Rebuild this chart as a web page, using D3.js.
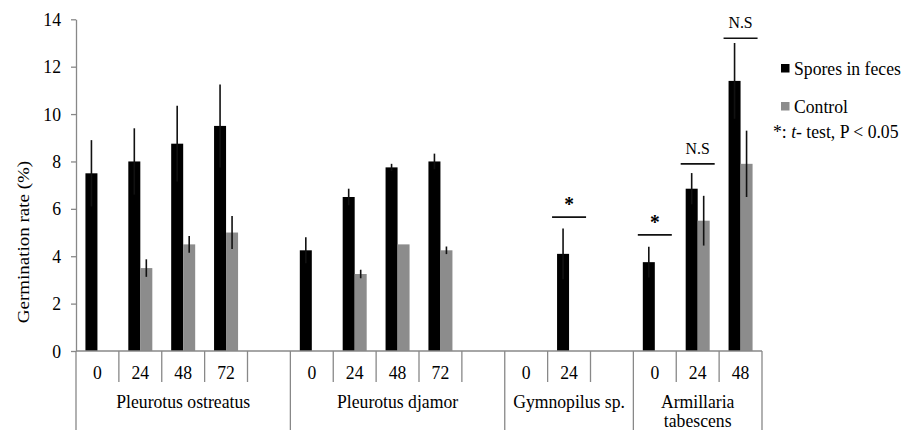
<!DOCTYPE html>
<html>
<head>
<meta charset="utf-8">
<script src="https://cdn.jsdelivr.net/npm/d3@7"></script>
<style>
	body { margin: 0; background: #fff; }
	text { font-family: "Liberation Serif", "Times New Roman", serif; fill: #000; }
</style>
</head>
<body>
<script>
'use strict';

// Groups (species) and the hour labels of their slots. An empty label is a spacer slot.
const groups = ["Pleurotus ostreatus", "Pleurotus djamor", "Gymnopilus sp.", "Armillaria tabescens"];
const groupHours = [
	["0", "24", "48", "72", ""],
	["0", "24", "48", "72", ""],
	["0", "24", ""],
	["0", "24", "48"]
];

// One entry per slot, in the same order as the hour labels above.
const fecesValues  = [7.5, 8.0, 8.75, 9.5, null, 4.25, 6.5, 7.75, 8.0, null, 0, 4.1, null, 3.75, 6.85, 11.4];
const fecesErrors  = [1.4, 1.4, 1.6, 1.75, null, 0.55, 0.35, 0.15, 0.33, null, 0, 1.07, null, 0.65, 0.66, 1.6];
const controlValues = [0, 3.5, 4.5, 5.0, null, 0, 3.25, 4.5, 4.25, null, 0, 0, null, 0, 5.5, 7.9];
const controlErrors = [0, 0.37, 0.35, 0.7, null, 0, 0.18, 0, 0.16, null, 0, 0, null, 0, 1.05, 1.4];

// Significance marks: slot index, label and the level (in %) of the bracket line.
const sigSlots  = [11, 13, 14, 15];
const sigLabels = ["*", "*", "N.S", "N.S"];
const sigLevels = [5.65, 4.9, 7.9, 13.2];

const yTicks = [0, 2, 4, 6, 8, 10, 12, 14];
const seriesNames = ["Spores in feces", "Control"];
const seriesColors = ["#000000", "#8c8c8c"];

const axisColor = "#888888";
const squeeze = 0.93; // the source text is slightly condensed

// Flatten the slots so every bar has one index.
let slots = [];
groupHours.forEach(function(hours, g)
{
	hours.forEach(function(h)
	{
		slots.push({ group: g, label: h });
	});
});

const svg = d3.select("body").append("svg")
	.attr("width", 914)
	.attr("height", 430);

const x = d3.scaleBand()
	.domain(d3.range(slots.length))
	.range([76, 762])
	.padding(0);

const inner = d3.scaleBand()
	.domain([0, 1])
	.range([0, x.bandwidth()])
	.paddingInner(0)
	.paddingOuter(0.786);

const y = d3.scaleLinear()
	.domain([0, 14])
	.range([351, 19.3]);

// Horizontal text helper, condensed like the source.
function addText(parent, str, tx, ty, anchor, size)
{
	return parent.append("text")
		.attr("transform", "translate(" + tx + "," + ty + ") scale(" + squeeze + ",1)")
		.attr("text-anchor", anchor || "middle")
		.style("font-size", (size || 19) + "px")
		.text(str);
}

// Y axis
const yAxis = svg.append("g")
	.attr("transform", "translate(76,0)")
	.call(d3.axisLeft(y).tickValues(yTicks).tickSize(5).tickSizeOuter(0));
yAxis.select(".domain").attr("stroke", axisColor).attr("stroke-width", 1.3);
yAxis.selectAll(".tick line").attr("stroke", axisColor).attr("stroke-width", 1.3);
yAxis.selectAll(".tick text")
	.attr("x", -15 / squeeze)
	.attr("transform", "scale(" + squeeze + ",1)")
	.style("font-size", "19px")
	.style("font-family", "\"Liberation Serif\", \"Times New Roman\", serif")
	.attr("fill", "#000");

svg.append("text")
	.attr("transform", "translate(23,242) rotate(-90) scale(1," + squeeze + ")")
	.attr("text-anchor", "middle")
	.attr("dy", "0.35em")
	.style("font-size", "19px")
	.text("Germination rate (%)");

// Bars
const series = [
	{ values: fecesValues, errors: fecesErrors },
	{ values: controlValues, errors: controlErrors }
];
series.forEach(function(s, k)
{
	let items = slots.map(function(d, i) { return { i: i, v: s.values[i], e: s.errors[i] }; })
		.filter(function(d) { return d.v != null && d.v > 0; });

	svg.append("g").selectAll("rect")
		.data(items)
		.enter()
		.append("rect")
		.attr("x", function(d) { return x(d.i) + inner(k); })
		.attr("width", inner.bandwidth())
		.attr("y", function(d) { return y(d.v); })
		.attr("height", function(d) { return y(0) - y(d.v); })
		.attr("fill", seriesColors[k]);

	svg.append("g").selectAll("line")
		.data(items.filter(function(d) { return d.e > 0; }))
		.enter()
		.append("line")
		.attr("x1", function(d) { return x(d.i) + inner(k) + inner.bandwidth() / 2; })
		.attr("x2", function(d) { return x(d.i) + inner(k) + inner.bandwidth() / 2; })
		.attr("y1", function(d) { return y(d.v + d.e); })
		.attr("y2", function(d) { return y(d.v - d.e); })
		.attr("stroke", "#111")
		.attr("stroke-width", 1.6);
});

// X axis: baseline, slot ticks and labels, group separators and names
svg.append("line")
	.attr("x1", x.range()[0]).attr("x2", x.range()[1])
	.attr("y1", y(0)).attr("y2", y(0))
	.attr("stroke", axisColor).attr("stroke-width", 1.3);

slots.forEach(function(d, i)
{
	let left = x(i);
	let isGroupStart = (i === 0 || slots[i - 1].group !== d.group);
	svg.append("line")
		.attr("x1", left).attr("x2", left)
		.attr("y1", y(0)).attr("y2", isGroupStart ? 430 : 382)
		.attr("stroke", axisColor).attr("stroke-width", 1.3);
	if (d.label !== "")
	{
		addText(svg, d.label, left + x.bandwidth() / 2, 379);
	}
});
svg.append("line")
	.attr("x1", x.range()[1]).attr("x2", x.range()[1])
	.attr("y1", y(0)).attr("y2", 430)
	.attr("stroke", axisColor).attr("stroke-width", 1.3);

groups.forEach(function(name, g)
{
	let idx = slots.map(function(d, i) { return d.group === g ? i : -1; })
		.filter(function(i) { return i >= 0; });
	let cx = (x(idx[0]) + x(idx[idx.length - 1]) + x.bandwidth()) / 2;
	let words = name.split(" ");
	if (g === groups.length - 1)
	{
		// Last group name wraps onto two lines
		addText(svg, words[0], cx, 408);
		addText(svg, words[1], cx, 427);
	}
	else
	{
		addText(svg, name, cx, 408);
	}
});

// Significance brackets
sigSlots.forEach(function(slot, j)
{
	let cx = x(slot) + x.bandwidth() / 2;
	let ly = y(sigLevels[j]);
	svg.append("line")
		.attr("x1", cx - 17).attr("x2", cx + 17)
		.attr("y1", ly).attr("y2", ly)
		.attr("stroke", "#111").attr("stroke-width", 1.6);
	let t = addText(svg, sigLabels[j], cx, ly - 10, "middle", sigLabels[j] === "*" ? 21 : 17);
	if (sigLabels[j] === "*")
	{
		t.style("font-weight", "bold").attr("transform", "translate(" + cx + "," + (ly - 6) + ") scale(" + squeeze + ",1)");
	}
});

// Legend
const legendY = [75, 113];
seriesNames.forEach(function(name, k)
{
	svg.append("rect")
		.attr("x", 781).attr("y", legendY[k] - 11)
		.attr("width", 8.5).attr("height", 8.5)
		.attr("fill", seriesColors[k]);
	addText(svg, name, 794, legendY[k], "start");
});

let note = svg.append("text")
	.attr("transform", "translate(773,138) scale(" + squeeze + ",1)")
	.style("font-size", "19px");
note.append("tspan").text("*: ");
note.append("tspan").style("font-style", "italic").text("t");
note.append("tspan").text("- test, P < 0.05");
</script>
</body>
</html>
